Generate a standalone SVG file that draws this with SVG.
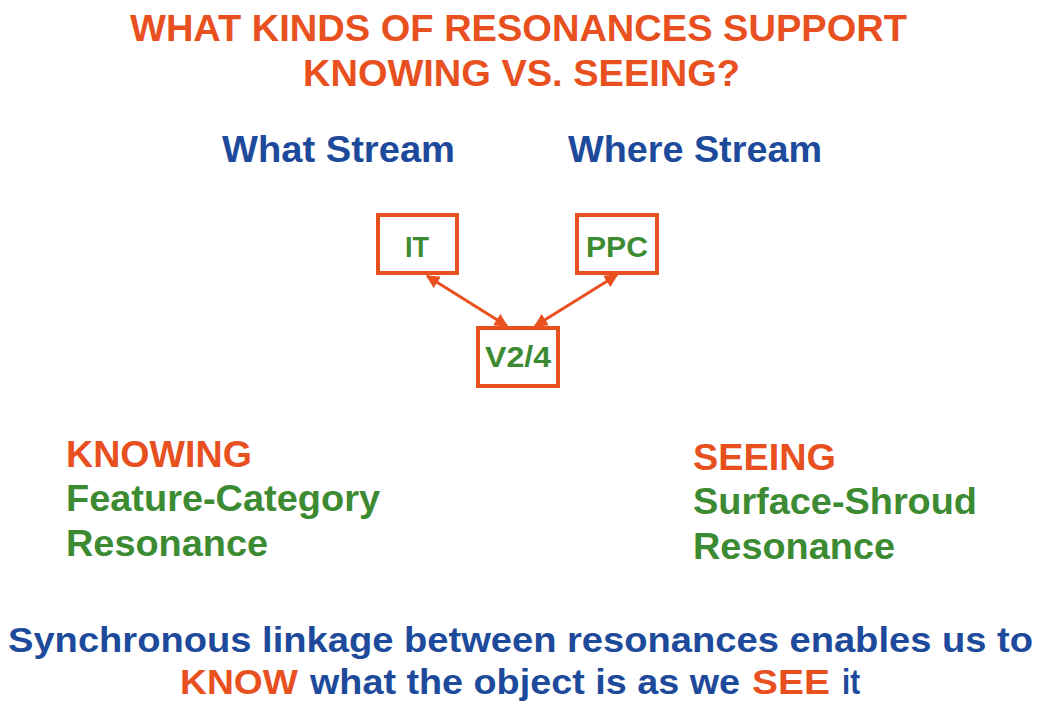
<svg xmlns="http://www.w3.org/2000/svg" width="1041" height="704" viewBox="0 0 1041 704">
<style>
text{font-family:"Liberation Sans",Arial,sans-serif;font-weight:bold}
.o{fill:#E8511F}.g{fill:#3C8B32}.b{fill:#1D4A9B}
.box{fill:#fff;stroke:#E8511F;stroke-width:4}
.lk{stroke:#E8511F;stroke-width:3;fill:none}
</style>
<defs>
<marker id="ah" viewBox="0 0 10 10" refX="9" refY="5" markerWidth="4.5" markerHeight="4.5" orient="auto-start-reverse" markerUnits="strokeWidth">
<path d="M0,0 L10,5 L0,10 z" fill="#E8511F"/>
</marker>
</defs>
<rect width="1041" height="704" fill="#fff"/>
<g id="title">
<text class="o" x="130" y="41" font-size="37" textLength="777" lengthAdjust="spacingAndGlyphs">WHAT KINDS OF RESONANCES SUPPORT</text>
<text class="o" x="303" y="86" font-size="37" textLength="437" lengthAdjust="spacingAndGlyphs">KNOWING VS. SEEING?</text>
</g>
<g id="what-stream"><text class="b" x="222" y="162" font-size="37" textLength="233" lengthAdjust="spacingAndGlyphs">What Stream</text></g>
<g id="where-stream"><text class="b" x="568" y="162" font-size="37" textLength="254" lengthAdjust="spacingAndGlyphs">Where Stream</text></g>
<g id="connectors">
<line class="lk" x1="427" y1="276" x2="507" y2="326" marker-start="url(#ah)" marker-end="url(#ah)"/>
<line class="lk" x1="617" y1="275" x2="535" y2="326" marker-start="url(#ah)" marker-end="url(#ah)"/>
</g>
<g id="node-IT">
<rect class="box" x="378" y="215" width="79" height="58"/>
<text class="g" x="417" y="257" font-size="29" text-anchor="middle" textLength="24" lengthAdjust="spacingAndGlyphs">IT</text>
</g>
<g id="node-PPC">
<rect class="box" x="577" y="215" width="80" height="58"/>
<text class="g" x="617" y="257" font-size="29" text-anchor="middle" textLength="62" lengthAdjust="spacingAndGlyphs">PPC</text>
</g>
<g id="node-V24">
<rect class="box" x="478" y="328" width="80" height="58"/>
<text class="g" x="518" y="367" font-size="29" text-anchor="middle" textLength="66" lengthAdjust="spacingAndGlyphs">V2/4</text>
</g>
<g id="knowing">
<text class="o" x="66" y="467" font-size="37" textLength="186" lengthAdjust="spacingAndGlyphs">KNOWING</text>
<text class="g" x="66" y="511" font-size="37" textLength="314" lengthAdjust="spacingAndGlyphs">Feature-Category</text>
<text class="g" x="66" y="556" font-size="37" textLength="202" lengthAdjust="spacingAndGlyphs">Resonance</text>
</g>
<g id="seeing">
<text class="o" x="693" y="470" font-size="37" textLength="143" lengthAdjust="spacingAndGlyphs">SEEING</text>
<text class="g" x="693" y="514" font-size="37" textLength="284" lengthAdjust="spacingAndGlyphs">Surface-Shroud</text>
<text class="g" x="693" y="559" font-size="37" textLength="202" lengthAdjust="spacingAndGlyphs">Resonance</text>
</g>
<g id="footer">
<text class="b" x="8" y="652" font-size="35" textLength="1025" lengthAdjust="spacingAndGlyphs">Synchronous linkage between resonances enables us to</text>
<text x="180" y="694" font-size="35"><tspan class="o" x="180" textLength="118" lengthAdjust="spacingAndGlyphs">KNOW</tspan><tspan class="b" x="310" textLength="430" lengthAdjust="spacingAndGlyphs">what the object is as we</tspan><tspan class="o" x="752" textLength="78" lengthAdjust="spacingAndGlyphs">SEE</tspan><tspan class="b" x="842" textLength="18" lengthAdjust="spacingAndGlyphs">it</tspan></text>
</g>
</svg>
